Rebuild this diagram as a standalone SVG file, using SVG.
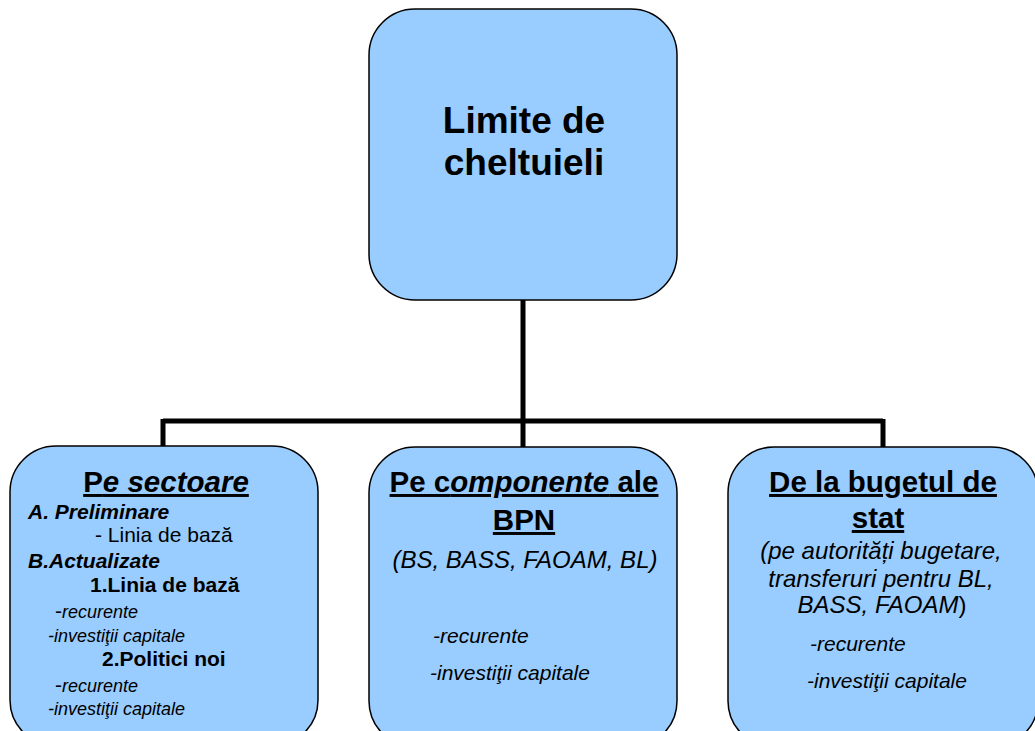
<svg xmlns="http://www.w3.org/2000/svg" width="1035" height="731" viewBox="0 0 1035 731">
<style>
.box{fill:#99CCFF;stroke:#000;stroke-width:1.5}
.con{fill:none;stroke:#000;stroke-width:5}
text{font-family:"Liberation Sans",Arial,sans-serif;fill:#000}
.h{font-weight:bold;font-size:29.5px;text-decoration:underline}
.t{font-weight:bold;font-size:37px}
.bi{font-weight:bold;font-style:italic;font-size:21px}
.b{font-weight:bold;font-size:21px}
.r{font-size:21px}
.s{font-style:italic;font-size:18px}
.m{font-style:italic;font-size:24px}
.n{font-style:italic;font-size:21px}
.d{font-style:normal;font-size:21px}
</style>
<rect width="1035" height="731" fill="#fff"/>
<g id="connectors">
<path class="con" d="M523 300V447M163 421H883M163 419V447M883 419V447"/>
</g>
<g id="root">
<rect class="box" x="369" y="9" width="308" height="291" rx="46"/>
<text class="t" x="524" y="133" text-anchor="middle">Limite de</text>
<text class="t" x="524" y="175" text-anchor="middle">cheltuieli</text>
</g>
<g id="sectoare">
<rect class="box" x="10" y="446" width="308" height="300" rx="46"/>
<text class="h" x="166" y="492" text-anchor="middle">P<tspan font-style="italic">e sectoare</tspan></text>
<text class="bi" x="28" y="519">A. Preliminare</text>
<text class="r" x="95" y="542">- Linia de bază</text>
<text class="bi" x="28" y="568">B.Actualizate</text>
<text class="b" x="90" y="592">1.Linia de bază</text>
<text class="s" x="55" y="618"><tspan class="d">-</tspan>recurente</text>
<text class="s" x="48" y="642">-investiţii capitale</text>
<text class="b" x="102" y="666">2.Politici noi</text>
<text class="s" x="55" y="692"><tspan class="d">-</tspan>recurente</text>
<text class="s" x="48" y="715">-investiţii capitale</text>
</g>
<g id="componente">
<rect class="box" x="369" y="447" width="308" height="300" rx="46"/>
<text class="h" x="524" y="492" text-anchor="middle">Pe c<tspan font-style="italic">omponente</tspan> ale</text>
<text class="h" x="524" y="530" text-anchor="middle">BPN</text>
<text class="m" x="525" y="568" text-anchor="middle">(BS, BASS, FAOAM, BL)</text>
<text class="n" x="433" y="643">-recurente</text>
<text class="n" x="430" y="680">-investiţii capitale</text>
</g>
<g id="buget">
<rect class="box" x="728" y="447" width="310" height="300" rx="46"/>
<text class="h" x="883" y="492" text-anchor="middle">De la bugetul de</text>
<text class="h" x="878" y="528" text-anchor="middle">stat</text>
<text class="m" x="881" y="559" text-anchor="middle">(pe autorități bugetare,</text>
<text class="m" x="881" y="587" text-anchor="middle">transferuri pentru BL,</text>
<text class="m" x="882" y="613" text-anchor="middle">BASS, FAOAM<tspan font-style="normal">)</tspan></text>
<text class="n" x="810" y="651">-recurente</text>
<text class="n" x="807" y="688">-investiţii capitale</text>
</g>
</svg>
